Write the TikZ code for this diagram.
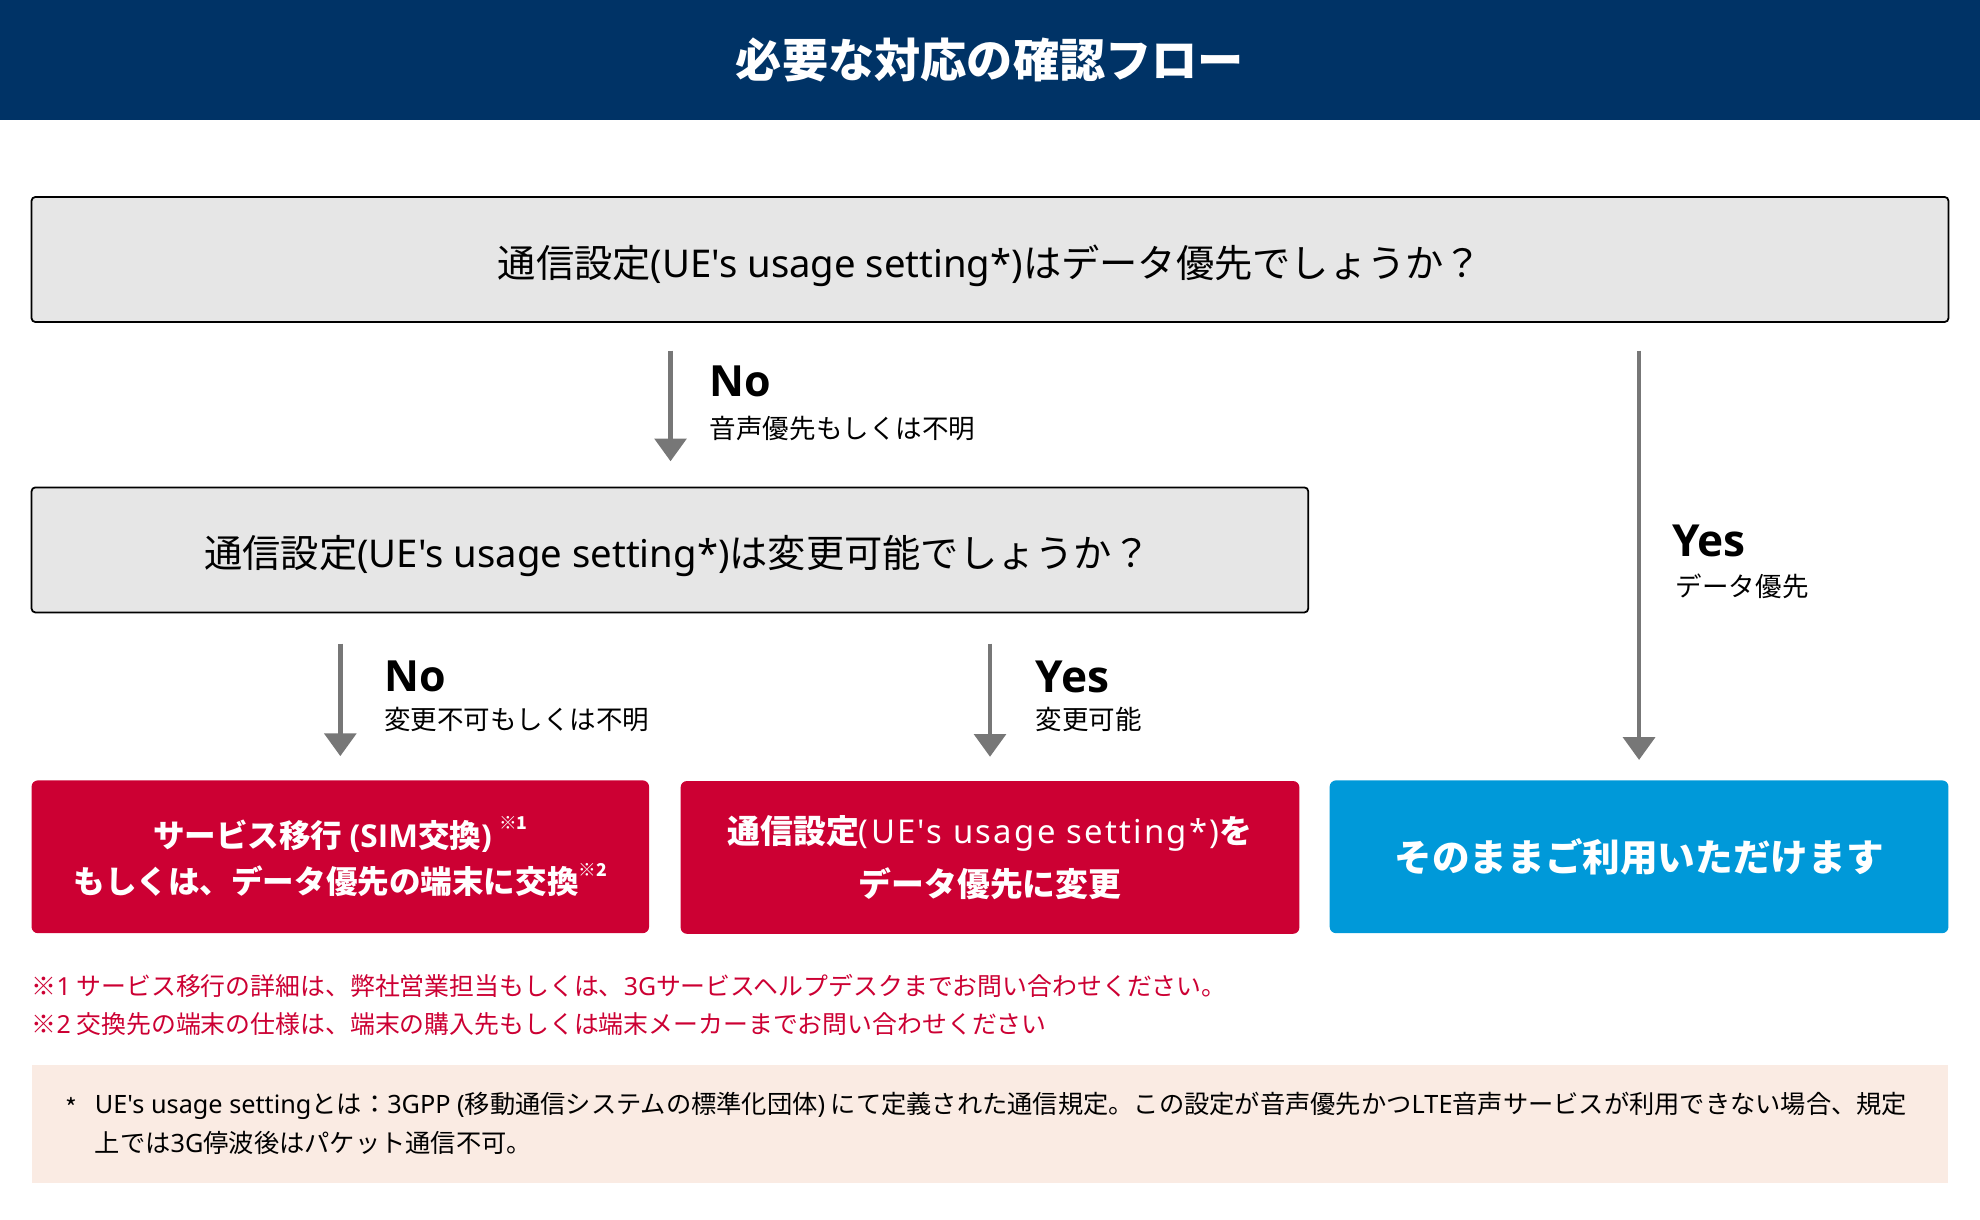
\documentclass[tikz,border=0pt]{standalone}
\usepackage{fontspec}
\setmainfont{Noto Sans CJK JP}[Ligatures=TeXOff]
\newfontfamily\lat{Noto Sans}[Ligatures=TeXOff]
\newfontfamily\latsp{Noto Sans}[Ligatures=TeXOff, LetterSpace=7]
\newfontfamily\latb{Open Sans}[Ligatures=TeXOff]
\usetikzlibrary{arrows.meta}
\definecolor{navy}{HTML}{003366}
\definecolor{qgray}{HTML}{E6E6E6}
\definecolor{kred}{HTML}{CC0033}
\definecolor{kblue}{HTML}{0099D9}
\definecolor{peach}{HTML}{FAEBE3}
\definecolor{agray}{HTML}{777777}
\newcommand{\fs}[1]{\fontsize{#1}{#1}\selectfont}
\newcommand{\ue}{{\lat (UE's usage setting*)}}
\newcommand{\uesp}{{\latsp (UE's usage setting*)}}
\newcommand{\dropq}[1]{\raisebox{-5pt}[\height][\depth]{#1}}
\begin{document}
\begin{tikzpicture}[x=1pt,y=-1pt,
  qbox/.style={draw=black, line width=1.4pt, fill=qgray, rounded corners=3pt, inner sep=0pt, font=\fs{30.3}},
  abox/.style={rounded corners=5pt, text=white, inner sep=0pt, align=center, minimum width=490pt, minimum height=121pt},
  arr/.style={draw=agray, line width=3.5pt, -{Triangle[width=25pt,length=18pt]}},
  nolab/.style={anchor=west, inner sep=0pt, font=\latb\bfseries\fs{34}},
  yeslab/.style={anchor=west, inner sep=0pt, font=\latb\bfseries\fs{35}},
  sublab/.style={anchor=west, inner sep=0pt, font=\fs{21}},
  fnote/.style={anchor=west, inner sep=0pt, text=kred, font=\fs{19.7}},
  ntext/.style={anchor=west, inner sep=0pt, font=\fs{20}}
]
\useasboundingbox (0,0) rectangle (1568,966);
% banner
\node[fill=navy, minimum width=1568pt, minimum height=95pt, inner sep=0pt, text=white, font=\bfseries\fs{36.6}] (banner) at (784,47.5) {必要な対応の確認フロー};
% questions
\node[qbox, minimum width=1518pt, minimum height=99pt] (q1) at (784,205.5) {\dropq{通信設定\ue{}はデータ優先でしょうか？}};
\node[qbox, minimum width=1011pt, minimum height=99pt] (q2) at (530.5,435.5) {\hspace*{12pt}\dropq{通信設定\ue{}は変更可能でしょうか？}};
% answers
\node[abox, fill=kred, minimum width=489pt, font=\bfseries\fs{25}] (r1) at (269.5,678.5)
  {サービス移行 {\latb\bfseries (SIM}交換{\latb\bfseries )} \raisebox{0.55em}{\fs{14}※1}\\[8pt]もしくは、データ優先の端末に交換\raisebox{0.55em}{\fs{14}※2}};
\node[abox, fill=kred, font=\bfseries\fs{26}] (r2) at (784,679)
  {通信設定\uesp{}を\\[12pt]データ優先に変更};
\node[abox, fill=kblue, font=\bfseries\fs{29.8}] (b3) at (1298,678.5) {そのままご利用いただけます};
% arrow x positions
\coordinate (x1) at (531,0);
\draw[arr, shorten <=22pt, shorten >=20pt] (q1.south -| x1) -- (q2.north -| x1);
\draw[arr, shorten <=22pt, shorten >=16pt] (q1.south -| b3) -- (b3.north);
\draw[arr, shorten <=24pt, shorten >=19pt] (q2.south -| r1) -- (r1.north);
\draw[arr, shorten <=24pt, shorten >=19pt] (q2.south -| r2) -- (r2.north);
% labels
\node[nolab] (no1) at (562,302) {No};
\node[sublab] (no1s) at (562,339) {音声優先もしくは不明};
\node[yeslab] (yes1) at (1324,428) {Yes};
\node[sublab] (yes1s) at (1327,464) {データ優先};
\node[nolab] (no2) at (304,536) {No};
\node[sublab] (no2s) at (304,570) {変更不可もしくは不明};
\node[yeslab] (yes2) at (820,536) {Yes};
\node[sublab] (yes2s) at (820,570) {変更可能};
% footnotes
\node[fnote] (fn1) at (25,781) {※{\lat 1} サービス移行の詳細は、弊社営業担当もしくは、{\lat 3G}サービスヘルプデスクまでお問い合わせください。};
\node[fnote] (fn2) at (25,811) {※{\lat 2} 交換先の端末の仕様は、端末の購入先もしくは端末メーカーまでお問い合わせください};
% note
\node[fill=peach, minimum width=1518pt, minimum height=94pt, inner sep=0pt] (note) at (784,890) {};
\node[ntext] (star) at (52,877) {*};
\node[ntext] (n1) at (75,876) {{\lat UE's usage setting}とは：{\lat 3GPP (}移動通信システムの標準化団体{\lat )} にて定義された通信規定。この設定が音声優先かつ{\lat LTE}音声サービスが利用できない場合、規定};
\node[ntext] (n2) at (75,905) {上では{\lat 3G}停波後はパケット通信不可。};
\end{tikzpicture}
\end{document}
